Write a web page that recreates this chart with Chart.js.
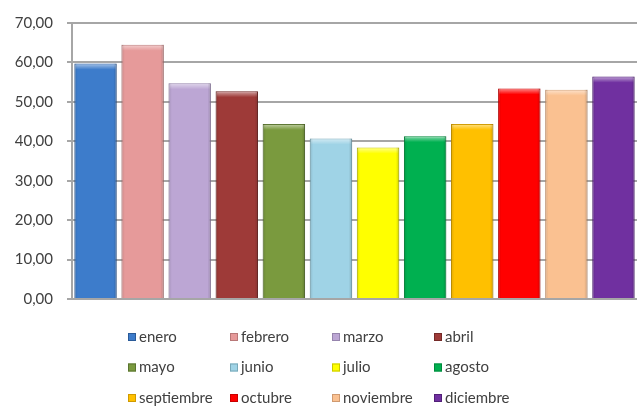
<!DOCTYPE html>
<html>
<head>
<meta charset="utf-8">
<script src="https://cdn.jsdelivr.net/npm/chart.js@4"></script>
<style>
  html, body { margin: 0; padding: 0; background: #fff; }
  #wrap { width: 637px; height: 408px; }
</style>
</head>
<body>
<div id="wrap"><canvas id="chart" width="637" height="408"></canvas></div>
<script>
const meses = ['enero', 'febrero', 'marzo', 'abril', 'mayo', 'junio',
  'julio', 'agosto', 'septiembre', 'octubre', 'noviembre', 'diciembre'];
const valores = [59.7, 64.5, 54.7, 52.7, 44.4, 40.7, 38.4, 41.3, 44.4, 53.4, 53.1, 56.4];
const colores = ['#3d7ccb', '#e69a9a', '#bca6d4', '#9e3a38', '#7a9a3e', '#9fd3e6',
  '#ffff00', '#00b050', '#ffc000', '#ff0000', '#fac191', '#7030a0'];
const bordes = ['#2a5a98', '#b87878', '#9684ad', '#742a28', '#5a7430', '#78a8b8',
  '#c8c800', '#008a3c', '#d09a00', '#c80000', '#d09a70', '#521f78'];
const yTicks = [0, 10, 20, 30, 40, 50, 60, 70];

const FONT = 'Lato, "Noto Sans", sans-serif';

// soft bevel on each bar: light top cap, darker sides
const bevel = {
  id: 'bevel',
  afterDatasetsDraw(chart) {
    const ctx = chart.ctx;
    chart.getDatasetMeta(0).data.forEach(bar => {
      const { x, y, base, width } = bar.getProps(['x', 'y', 'base', 'width'], true);
      const l = x - width / 2, r = x + width / 2;
      ctx.save();
      const top = ctx.createLinearGradient(0, y, 0, y + 6);
      top.addColorStop(0, 'rgba(255,255,255,0.55)');
      top.addColorStop(1, 'rgba(255,255,255,0)');
      ctx.fillStyle = top;
      ctx.fillRect(l + 1, y + 1, width - 2, 6);
      const side = ctx.createLinearGradient(l, 0, r, 0);
      side.addColorStop(0, 'rgba(0,0,0,0.12)');
      side.addColorStop(0.08, 'rgba(0,0,0,0)');
      side.addColorStop(0.92, 'rgba(0,0,0,0)');
      side.addColorStop(1, 'rgba(0,0,0,0.18)');
      ctx.fillStyle = side;
      ctx.fillRect(l, y, width, base - y);
      ctx.restore();
    });
  }
};

// legend drawn as a 4 x 3 grid under the plot
const gridLegend = {
  id: 'gridLegend',
  afterDraw(chart) {
    const ctx = chart.ctx;
    const ds = chart.data.datasets[0];
    const cols = 4;
    const x0 = 128, colW = 102;
    const y0 = 337, rowH = 30.5;
    ctx.save();
    ctx.font = '15px ' + FONT;
    ctx.textBaseline = 'middle';
    ctx.textAlign = 'left';
    chart.data.labels.forEach((lab, i) => {
      const x = x0 + (i % cols) * colW;
      const y = y0 + Math.floor(i / cols) * rowH;
      ctx.fillStyle = ds.backgroundColor[i];
      ctx.fillRect(x, y - 4, 8, 8);
      ctx.strokeStyle = ds.borderColor[i];
      ctx.lineWidth = 1;
      ctx.strokeRect(x + 0.5, y - 3.5, 7, 7);
      ctx.fillStyle = '#404040';
      ctx.fillText(lab, x + 11, y);
    });
    ctx.restore();
  }
};

new Chart(document.getElementById('chart'), {
  type: 'bar',
  data: {
    labels: meses,
    datasets: [{
      data: valores,
      backgroundColor: colores,
      borderColor: bordes,
      borderWidth: 1,
      categoryPercentage: 0.9,
      barPercentage: 1
    }]
  },
  options: {
    responsive: false,
    animation: false,
    layout: { padding: { top: 16, right: 0, bottom: 109, left: 0 } },
    plugins: { legend: { display: false }, tooltip: { enabled: false } },
    scales: {
      x: { display: false },
      y: {
        min: 0,
        max: 70,
        afterBuildTicks: axis => { axis.ticks = yTicks.map(v => ({ value: v })); },
        afterFit: axis => { axis.width = 72; },
        ticks: {
          color: '#404040',
          font: { family: FONT, size: 15 },
          padding: 14,
          callback: v => v.toFixed(2).replace('.', ',')
        },
        grid: { color: '#a6a6a6', lineWidth: 2, tickLength: 5 },
        border: { color: '#a6a6a6', width: 2 }
      }
    }
  },
  plugins: [bevel, gridLegend]
});
</script>
</body>
</html>
